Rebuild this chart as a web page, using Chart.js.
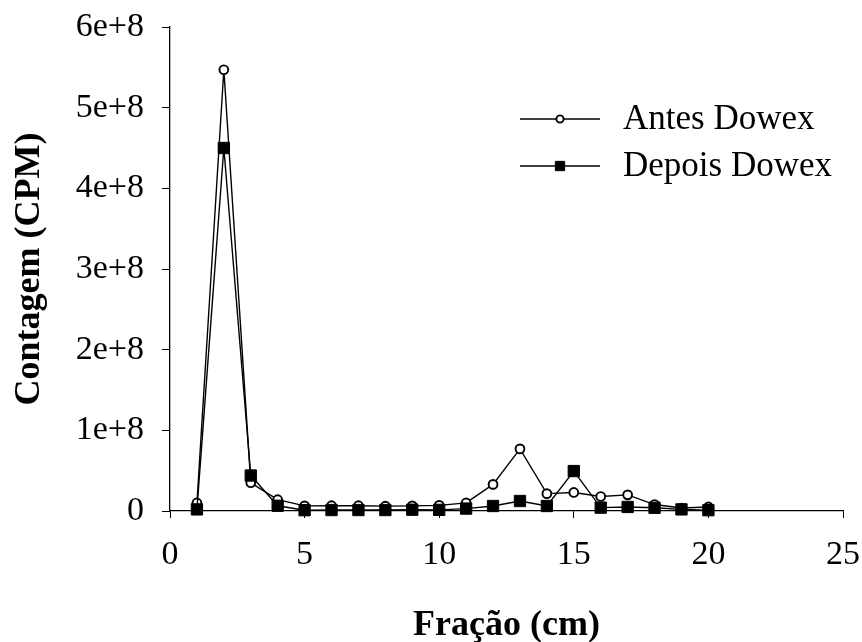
<!DOCTYPE html>
<html>
<head>
<meta charset="utf-8">
<script src="https://cdn.jsdelivr.net/npm/chart.js@4/dist/chart.umd.min.js"></script>
<style>
  html, body { margin: 0; padding: 0; background: #fff; }
  #wrap { width: 862px; height: 642px; }
</style>
</head>
<body>
<div id="wrap"><canvas id="c" width="862" height="642"></canvas></div>
<script>
// Fraction number (cm)
const fractions = [1, 2, 3, 4, 5, 6, 7, 8, 9, 10, 11, 12, 13, 14, 15, 16, 17, 18, 19, 20];
// Counts before the Dowex column (CPM)
const antesDowex = [1.0e7, 5.47e8, 3.5e7, 1.4e7, 6.4e6, 6.6e6, 6.6e6, 6.0e6, 6.4e6, 7.0e6,
                    1.0e7, 3.3e7, 7.7e7, 2.15e7, 2.3e7, 1.8e7, 2.0e7, 8.0e6, 3.7e6, 5.0e6];
// Counts after the Dowex column (CPM)
const depoisDowex = [2.0e6, 4.50e8, 4.4e7, 6.5e6, 1.0e6, 1.2e6, 1.2e6, 1.2e6, 1.6e6, 1.4e6,
                     3.0e6, 6.2e6, 1.24e7, 6.2e6, 4.95e7, 4.2e6, 5.0e6, 4.0e6, 2.0e6, 1.0e6];
// Axis tick labels
const yTickLabels = ['0', '1e+8', '2e+8', '3e+8', '4e+8', '5e+8', '6e+8'];
const xTickLabels = ['0', '5', '10', '15', '20', '25'];
const seriesNames = ['Antes Dowex', 'Depois Dowex'];

const serif = "'Liberation Serif', 'Times New Roman', serif";

const toPoints = (ys) => fractions.map((x, i) => ({ x: x, y: ys[i] }));

// Legend drawn as line + marker + label, to the right of the peak
const seriesLegend = {
  id: 'seriesLegend',
  afterDraw(chart, args, opts) {
    const ctx = chart.ctx;
    ctx.save();
    chart.data.datasets.forEach((ds, i) => {
      const y = opts.top + i * opts.rowGap;
      ctx.strokeStyle = '#000';
      ctx.lineWidth = 1.3;
      ctx.beginPath();
      ctx.moveTo(opts.lineStart, y);
      ctx.lineTo(opts.lineEnd, y);
      ctx.stroke();
      ctx.fillStyle = ds.pointBackgroundColor;
      ctx.strokeStyle = ds.pointBorderColor;
      ctx.lineWidth = ds.pointBorderWidth;
      Chart.helpers.drawPoint(ctx, {
        pointStyle: ds.pointStyle,
        rotation: 0,
        radius: opts.markerRadius[i],
        borderWidth: ds.pointBorderWidth
      }, (opts.lineStart + opts.lineEnd) / 2, y);
      ctx.fillStyle = '#000';
      ctx.font = opts.font;
      ctx.textAlign = 'left';
      ctx.textBaseline = 'middle';
      ctx.fillText(ds.label, opts.textX, y + 1);
    });
    ctx.restore();
  }
};

new Chart(document.getElementById('c'), {
  type: 'line',
  data: {
    datasets: [
      {
        label: seriesNames[0],
        data: toPoints(antesDowex),
        borderColor: '#000',
        borderWidth: 1.4,
        pointStyle: 'circle',
        pointRadius: 4.4,
        pointBorderWidth: 1.9,
        pointBackgroundColor: '#fff',
        pointBorderColor: '#000',
        tension: 0,
        clip: false,
        order: 1
      },
      {
        label: seriesNames[1],
        data: toPoints(depoisDowex),
        borderColor: '#000',
        borderWidth: 1.4,
        pointStyle: 'rect',
        pointRadius: 8,
        pointBorderWidth: 1,
        pointBackgroundColor: '#000',
        pointBorderColor: '#000',
        tension: 0,
        clip: false,
        order: 0
      }
    ]
  },
  options: {
    responsive: false,
    animation: false,
    events: [],
    layout: { padding: { top: 27, right: 19, bottom: 0, left: 0 } },
    plugins: {
      legend: { display: false },
      tooltip: { enabled: false },
      seriesLegend: {
        top: 119,
        rowGap: 47,
        lineStart: 520,
        lineEnd: 600,
        textX: 623,
        markerRadius: [3.6, 6.6],
        font: '35px ' + serif
      }
    },
    scales: {
      x: {
        type: 'linear',
        min: 0,
        max: 25,
        afterFit(scale) {
          scale.height = 131;
          scale.paddingLeft = 0;
          scale.paddingRight = 0;
        },
        ticks: {
          stepSize: 5,
          padding: 20,
          color: '#000',
          font: { family: serif, size: 34, lineHeight: 1 },
          maxRotation: 0,
          callback: (v) => xTickLabels[Math.round(v / 5)]
        },
        grid: {
          display: true,
          drawOnChartArea: false,
          drawTicks: true,
          tickLength: 7,
          tickColor: '#000',
          tickWidth: 1
        },
        border: { display: true, color: '#000', width: 1.3 },
        title: {
          display: true,
          text: 'Fração (cm)',
          color: '#000',
          font: { family: serif, size: 36, weight: 'bold', lineHeight: 0.9 },
          padding: { top: 0, bottom: 0 }
        }
      },
      y: {
        type: 'linear',
        min: 0,
        max: 6e8,
        afterFit(scale) {
          scale.width = 170;
          scale.paddingTop = 0;
          scale.paddingBottom = 0;
        },
        ticks: {
          stepSize: 1e8,
          padding: 18,
          color: '#000',
          font: { family: serif, size: 34, lineHeight: 1 },
          callback: (v) => yTickLabels[Math.round(v / 1e8)]
        },
        grid: {
          display: true,
          drawOnChartArea: false,
          drawTicks: true,
          tickLength: 8,
          tickColor: '#000',
          tickWidth: 1
        },
        border: { display: true, color: '#000', width: 1.3 },
        title: {
          display: true,
          text: 'Contagem (CPM)',
          color: '#000',
          font: { family: serif, size: 36, weight: 'bold', lineHeight: 1 },
          padding: { top: 12, bottom: 0 }
        }
      }
    }
  },
  plugins: [seriesLegend]
});
</script>
</body>
</html>
